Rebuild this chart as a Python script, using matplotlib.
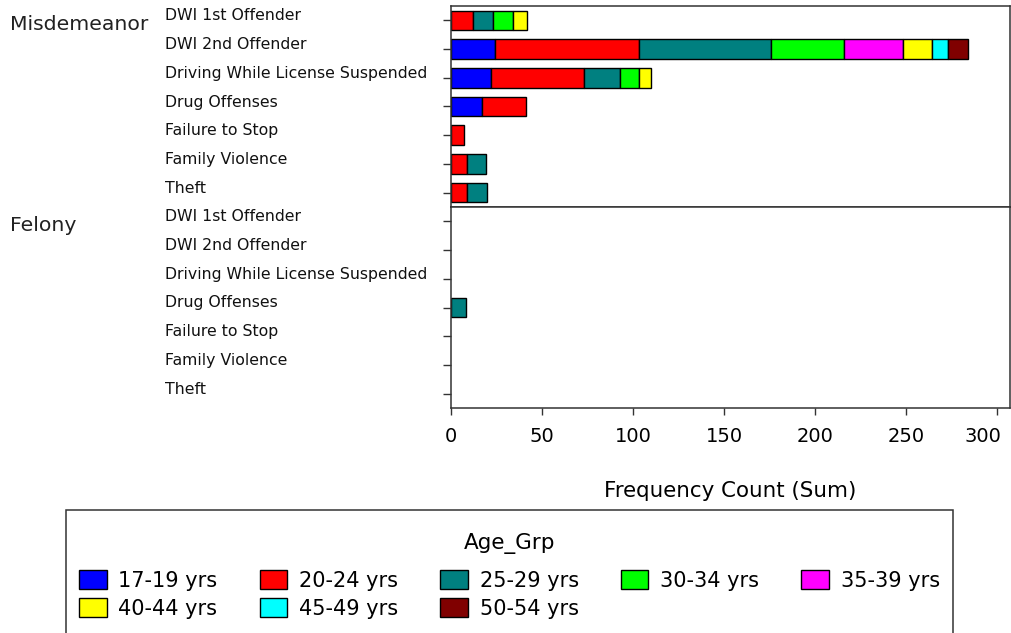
import matplotlib
matplotlib.use("Agg")
import matplotlib.pyplot as plt
import numpy as np
from matplotlib.transforms import blended_transform_factory, ScaledTranslation
from matplotlib.patches import Rectangle, Patch

plt.rcParams['font.family'] = ['DejaVu Sans']

# ---------------- data ----------------
groups = ["Misdemeanor", "Felony"]
categories = ["DWI 1st Offender", "DWI 2nd Offender", "Driving While License Suspended",
              "Drug Offenses", "Failure to Stop", "Family Violence", "Theft"]
age_groups = ["17-19 yrs", "20-24 yrs", "25-29 yrs", "30-34 yrs",
              "35-39 yrs", "40-44 yrs", "45-49 yrs", "50-54 yrs"]
colors = ["#0000FF", "#FF0000", "#008080", "#00FF00",
          "#FF00FF", "#FFFF00", "#00FFFF", "#800000"]

# Misdemeanor counts per age group (in category order)
misd_17_19 = [0, 24, 22, 17, 0, 0, 0]
misd_20_24 = [12, 79, 51, 24, 7, 9, 9]
misd_25_29 = [11, 73, 20, 0, 0, 10, 11]
misd_30_34 = [11, 40, 10, 0, 0, 0, 0]
misd_35_39 = [0, 32, 0, 0, 0, 0, 0]
misd_40_44 = [8, 16, 7, 0, 0, 0, 0]
misd_45_49 = [0, 9, 0, 0, 0, 0, 0]
misd_50_54 = [0, 11, 0, 0, 0, 0, 0]

# Felony counts per age group (in category order)
fel_17_19 = [0, 0, 0, 0, 0, 0, 0]
fel_20_24 = [0, 0, 0, 0, 0, 0, 0]
fel_25_29 = [0, 0, 0, 8, 0, 0, 0]
fel_30_34 = [0, 0, 0, 0, 0, 0, 0]
fel_35_39 = [0, 0, 0, 0, 0, 0, 0]
fel_40_44 = [0, 0, 0, 0, 0, 0, 0]
fel_45_49 = [0, 0, 0, 0, 0, 0, 0]
fel_50_54 = [0, 0, 0, 0, 0, 0, 0]

x_ticks = [0, 50, 100, 150, 200, 250, 300]

misd = [misd_17_19, misd_20_24, misd_25_29, misd_30_34,
        misd_35_39, misd_40_44, misd_45_49, misd_50_54]
fel = [fel_17_19, fel_20_24, fel_25_29, fel_30_34,
       fel_35_39, fel_40_44, fel_45_49, fel_50_54]

# ---------------- figure ----------------
W, H = 1011, 633
fig = plt.figure(figsize=(W / 100, H / 100), dpi=100)
fig.patch.set_facecolor("white")

ax_top = fig.add_axes([451 / W, 1 - 207 / H, 559 / W, 201 / H])
ax_bot = fig.add_axes([451 / W, 1 - 408 / H, 559 / W, 201 / H])

spine_color = "#333333"
for ax, data, gname in zip([ax_top, ax_bot], [misd, fel], groups):
    y = np.arange(len(categories))
    left = np.zeros(len(categories))
    for vals, color, label in zip(data, colors, age_groups):
        vals = np.asarray(vals, dtype=float)
        m = vals > 0
        if m.any():
            ax.barh(y[m], vals[m], left=left[m], height=0.68, color=color,
                    edgecolor="black", linewidth=1.0, label=label)
        left += vals
    ax.set_ylim(len(categories) - 0.5, -0.5)
    ax.set_xlim(0, 307)
    ax.set_yticks(y)
    ax.set_yticklabels(categories, ha="left", va="baseline", fontsize=11.3,
                       color="#111111")
    ax.tick_params(axis="y", length=5.8, width=1.0, pad=200, color=spine_color)
    for sp in ax.spines.values():
        sp.set_color(spine_color)
        sp.set_linewidth(1.1)
    tr = blended_transform_factory(fig.transFigure, ax.transData)
    ax.text(10 / W, 0.33, gname, transform=tr, ha="left", va="baseline",
            fontsize=14.7, color="#222222")

ax_top.tick_params(axis="x", bottom=False, labelbottom=False)
ax_bot.set_xticks(x_ticks)
ax_bot.set_xticklabels([str(t) for t in x_ticks])
ax_bot.tick_params(axis="x", length=5, width=1.0, labelsize=14, pad=9, color=spine_color)
# keep the last tick label inside the figure (as in the reference)
last = ax_bot.get_xticklabels()[-1]
last.set_transform(last.get_transform() + ScaledTranslation(-14 / 100, 0, fig.dpi_scale_trans))
ax_bot.set_xlabel("Frequency Count (Sum)", fontsize=15.4, labelpad=25)

# legend box (cut off at bottom like the reference)
box = Rectangle((66 / W, -0.02), (953 - 66) / W, (1 - 510 / H) + 0.02,
                transform=fig.transFigure, facecolor="none", edgecolor=spine_color,
                linewidth=1.1, clip_on=False)
fig.patches.append(box)
fig.text(509.5 / W, 1 - 543 / H, "Age_Grp", ha="center", va="center", fontsize=15.5)

handles = [Patch(facecolor=c, edgecolor="black", linewidth=1.0, label=l)
           for c, l in zip(colors, age_groups)]
order = [0, 5, 1, 6, 2, 7, 3, 4]
fig.legend([handles[i] for i in order], [age_groups[i] for i in order],
           ncol=5, loc="upper left", bbox_to_anchor=(79 / W, 1 - 570 / H),
           frameon=False, fontsize=15, handlelength=1.33, handleheight=1.04,
           handletextpad=0.56, columnspacing=2.02, labelspacing=0.36,
           borderpad=0, borderaxespad=0)

fig.savefig("out.png", dpi=100)
